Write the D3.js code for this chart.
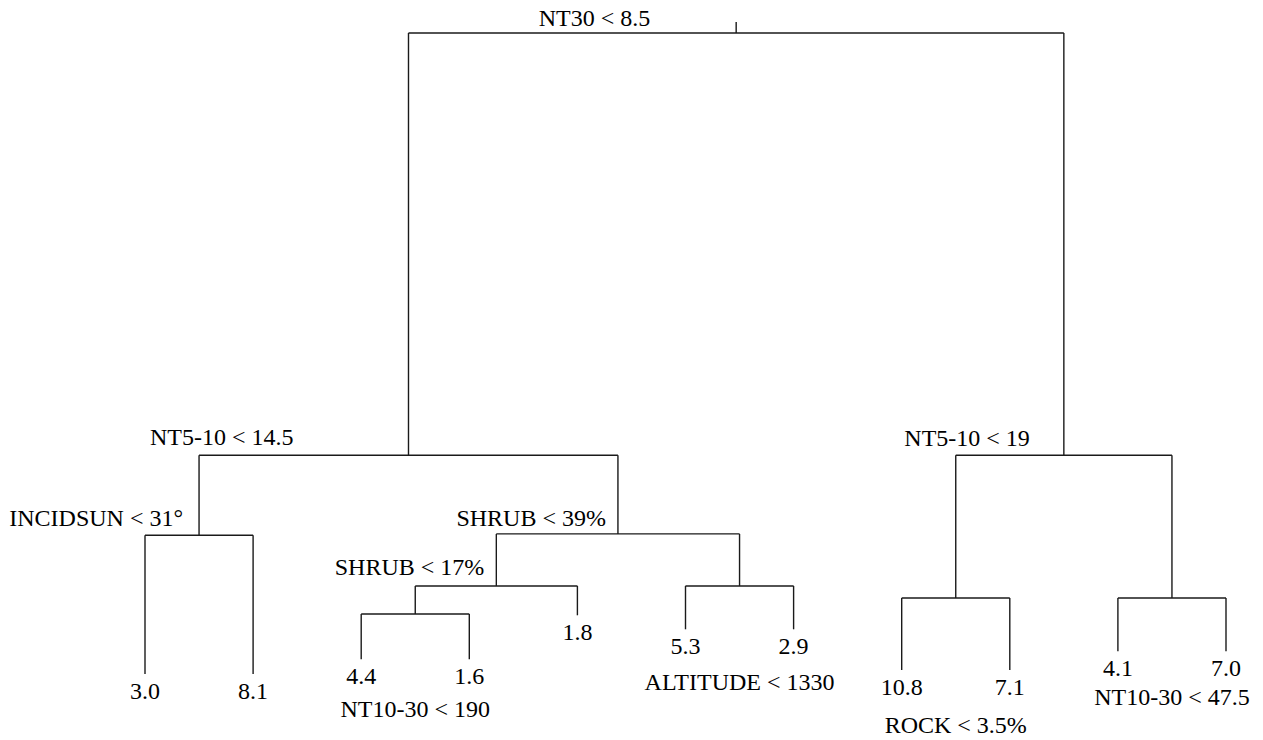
<!DOCTYPE html>
<html>
<head>
<meta charset="utf-8">
<script src="https://cdn.jsdelivr.net/npm/d3@7"></script>
<style>
  html, body { margin: 0; padding: 0; background: #fff; }
  svg { display: block; }
  text { font-family: "Liberation Serif", "Times New Roman", serif; font-size: 24px; fill: #000; }
</style>
</head>
<body>
<svg id="chart" width="1263" height="740"></svg>
<script>
// ---- Data: regression tree (split labels, leaf means, node heights) ----
const nodeIds    = ["root", "A", "B", "A1", "A2", "l30", "l81", "A2a", "A2b", "A2a1", "l18", "l44", "l16", "l53", "l29", "B1", "B2", "l108", "l71", "l41", "l70"];
const parentIds  = ["",     "root", "root", "A", "A", "A1", "A1", "A2", "A2", "A2a", "A2a", "A2a1", "A2a1", "A2b", "A2b", "B", "B", "B1", "B1", "B2", "B2"];
const nodeLabels = ["NT30 < 8.5", "NT5-10 < 14.5", "NT5-10 < 19", "INCIDSUN < 31°", "SHRUB < 39%", "3.0", "8.1",
                    "SHRUB < 17%", "ALTITUDE < 1330", "NT10-30 < 190", "1.8", "4.4", "1.6", "5.3", "2.9",
                    "ROCK < 3.5%", "NT10-30 < 47.5", "10.8", "7.1", "4.1", "7.0"];
// node height (deviance-like units)
const nodeHeights = [100, 36.7, 36.7, 24.7, 24.9, 3.9, 3.9, 17.1, 17.1, 12.9, 12.7, 6.1, 6.1, 10.6, 10.6, 15.3, 15.3, 4.5, 4.5, 7.3, 7.3];

// ---- Layout (styles/placement only) ----
const labelLayout = {
  root: { pos: "above", dx: -86, dy: -7 },
  A:    { pos: "above", dx: -115, dy: -10 },
  B:    { pos: "above", dx: -34, dy: -9 },
  A1:   { pos: "above", dx: -16, dy: -9 },
  A2:   { pos: "above", dx: -12, dy: -8 },
  A2a:  { pos: "above", dx: -12, dy: -11 },
  A2a1: { pos: "below", dy: 33 },
  A2b:  { pos: "below", dy: 36 },
  B1:   { pos: "below", dy: 38 },
  B2:   { pos: "below", dy: 29 }
};

const rows = nodeIds.map((id, i) => ({ id, parent: parentIds[i] || null, label: nodeLabels[i], h: nodeHeights[i] }));
const root = d3.stratify().id(d => d.id).parentId(d => d.parent)(rows);
d3.cluster().size([1, 1]).separation(() => 1)(root);

const x = d3.scaleLinear().domain(d3.extent(root.leaves(), d => d.x)).range([145, 1226]);
const y = d3.scaleLinear().domain([0, 100]).range([700, 33]);

const svg = d3.select("#chart");
const g = svg.append("g");
const stroke = "#1a1a1a";

// root stem
g.append("line")
  .attr("x1", x(root.x)).attr("x2", x(root.x))
  .attr("y1", y(root.data.h) - 11).attr("y2", y(root.data.h))
  .attr("stroke", stroke).attr("stroke-width", 1.4);

// horizontal bars and vertical drops
root.descendants().filter(d => d.children).forEach(d => {
  const xs = d.children.map(c => x(c.x));
  g.append("line")
    .attr("x1", d3.min(xs)).attr("x2", d3.max(xs))
    .attr("y1", y(d.data.h)).attr("y2", y(d.data.h))
    .attr("stroke", stroke).attr("stroke-width", 1.4);
  d.children.forEach(c => {
    g.append("line")
      .attr("x1", x(c.x)).attr("x2", x(c.x))
      .attr("y1", y(d.data.h)).attr("y2", y(c.data.h))
      .attr("stroke", stroke).attr("stroke-width", 1.4);
  });
});

// leaf labels
const leafGap = 25;
root.leaves().forEach(l => {
  g.append("text")
    .attr("x", x(l.x)).attr("y", y(l.data.h) + leafGap)
    .attr("text-anchor", "middle")
    .text(l.data.label);
});

// split labels
root.descendants().filter(d => d.children).forEach(d => {
  const lay = labelLayout[d.id];
  if (lay.pos === "above") {
    g.append("text")
      .attr("x", x(d.x) + lay.dx).attr("y", y(d.data.h) + lay.dy)
      .attr("text-anchor", "end")
      .text(d.data.label);
  } else {
    const leafY = d3.max(d.children, c => y(c.data.h));
    g.append("text")
      .attr("x", x(d.x)).attr("y", leafY + leafGap + lay.dy)
      .attr("text-anchor", "middle")
      .text(d.data.label);
  }
});
</script>
</body>
</html>
